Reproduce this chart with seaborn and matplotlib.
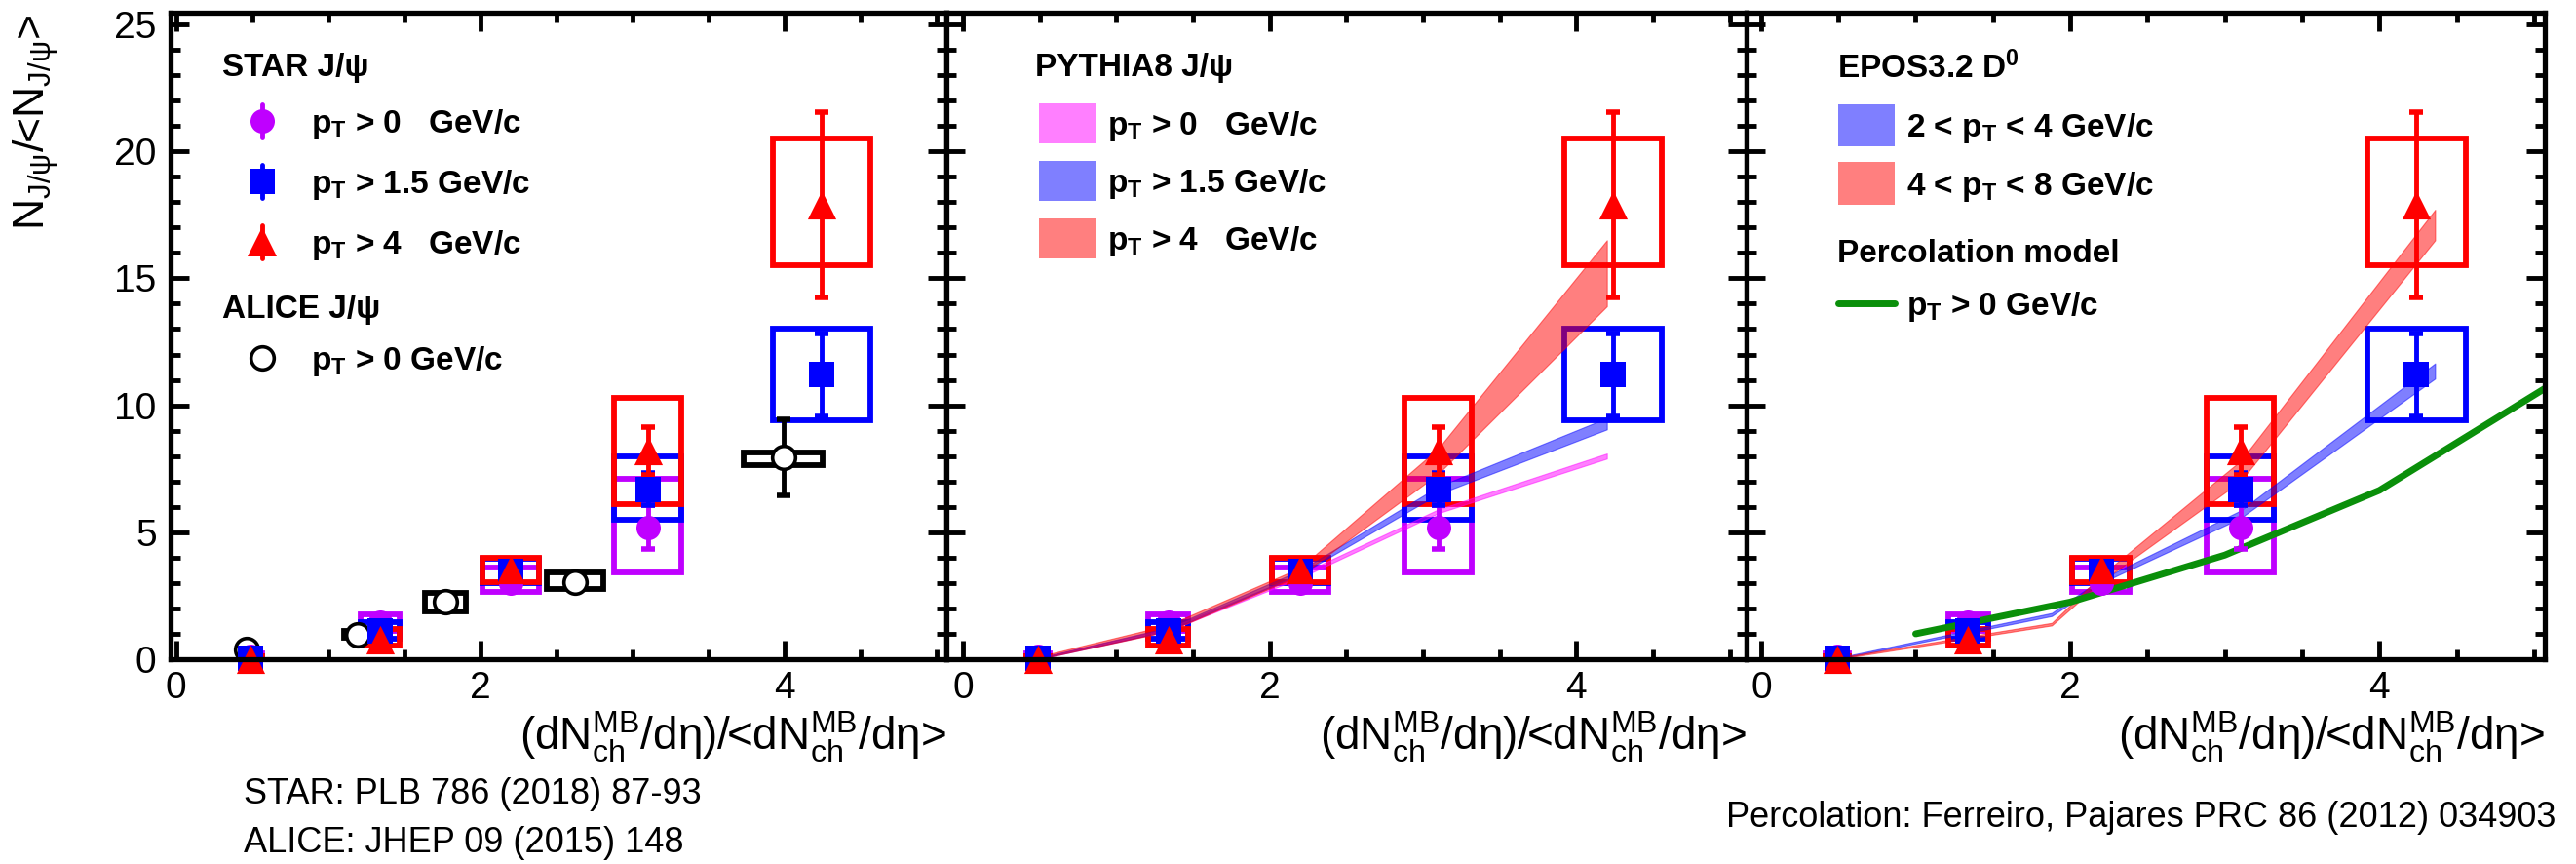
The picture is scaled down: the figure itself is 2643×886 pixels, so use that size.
import matplotlib
matplotlib.use("Agg")
import matplotlib.pyplot as plt
import seaborn as sns
import numpy as np
from matplotlib.ticker import MultipleLocator
from matplotlib.patches import Rectangle
from matplotlib.lines import Line2D

# ---------------- data ----------------
star_x = [0.49, 1.34, 2.2, 3.1, 4.24]
star_box_w = [0.15, 0.26, 0.37, 0.44, 0.64]

pt0_y = [0.12, 1.45, 3.0, 5.2]
pt0_stat = [0.05, 0.1, 0.15, 0.85]
pt0_sys_lo = [0.02, 1.1, 2.65, 3.4]
pt0_sys_hi = [0.22, 1.75, 3.6, 7.1]

pt15_y = [0.02, 1.1, 3.45, 6.7, 11.2]
pt15_stat = [0.05, 0.15, 0.2, 0.65, 1.63]
pt15_sys_lo = [-0.08, 0.8, 3.0, 5.5, 9.4]
pt15_sys_hi = [0.12, 1.45, 3.95, 8.0, 13.0]

pt4_y = [0.0, 0.75, 3.55, 8.2, 17.9]
pt4_stat = [0.05, 0.2, 0.3, 0.95, 3.65]
pt4_sys_lo = [-0.1, 0.55, 3.05, 6.1, 15.5]
pt4_sys_hi = [0.1, 1.2, 4.0, 10.3, 20.5]

alice_x = [0.46, 1.19, 1.77, 2.62, 3.99]
alice_y = [0.4, 0.95, 2.25, 3.05, 7.95]
alice_stat = [0.05, 0.1, 0.15, 0.2, 1.5]
alice_sys_lo = [0.35, 0.85, 1.9, 2.75, 7.65]
alice_sys_hi = [0.45, 1.1, 2.6, 3.4, 8.15]
alice_box_w = [0.1, 0.17, 0.27, 0.37, 0.52]

pythia_x = [0.49, 1.34, 2.2, 3.1, 4.2]
pythia_pt0_lo = [0.0, 1.12, 3.2, 5.75, 7.9]
pythia_pt0_hi = [0.05, 1.22, 3.35, 5.9, 8.1]
pythia_pt15_lo = [0.0, 1.12, 3.35, 6.5, 9.05]
pythia_pt15_hi = [0.05, 1.25, 3.5, 6.8, 9.5]
pythia_pt4_lo = [0.0, 1.1, 3.3, 7.3, 13.9]
pythia_pt4_hi = [0.1, 1.35, 3.6, 8.3, 16.5]

epos_x = [0.49, 1.88, 2.2, 3.1, 4.36]
epos_24_lo = [0.0, 1.7, 3.0, 5.55, 11.05]
epos_24_hi = [0.05, 1.82, 3.15, 5.85, 11.65]
epos_48_lo = [0.0, 1.33, 3.05, 7.0, 16.5]
epos_48_hi = [0.05, 1.43, 3.3, 7.8, 17.7]

perc_x = [1.0, 2.0, 3.0, 4.0, 5.2]
perc_y = [1.0, 2.25, 4.1, 6.65, 11.15]

xlims = [(-0.04, 5.06), (-0.11, 5.11), (-0.095, 5.07)]

# ---------------- style ----------------
sns.set_theme(style="ticks")
plt.rcParams.update({
    'font.family': ['Liberation Sans', 'DejaVu Sans'],
    'mathtext.fontset': 'custom',
    'mathtext.rm': 'Liberation Sans',
    'mathtext.it': 'Liberation Sans:italic',
    'mathtext.bf': 'Liberation Sans:bold',
    'axes.linewidth': 3.8,
    'axes.edgecolor': 'black',
    'xtick.color': 'black', 'ytick.color': 'black',
    'text.color': 'black', 'axes.labelcolor': 'black',
})

MAG = '#bf00ff'
BLU = '#0000ff'
RED = '#ff0000'
GRN = '#0a8f0a'

W, H = 2643, 886
fig = plt.figure(figsize=(W / 100, H / 100), dpi=100)
gs = fig.add_gridspec(1, 3, width_ratios=[796, 821, 819], wspace=0,
                      left=174.5 / W, right=2611 / W,
                      bottom=1 - 676 / H, top=1 - 12.5 / H)
axes = [fig.add_subplot(gs[0, i]) for i in range(3)]


def fx(px):
    return px / W


def fy(py):
    return 1 - py / H


def draw_series(ax, x, y, stat, lo, hi, bw, color, marker, size, open_marker=False):
    n = len(y)
    x = np.asarray(x[:n]); lo = np.asarray(lo); hi = np.asarray(hi)
    ax.bar(x, hi - lo, width=np.asarray(bw[:n]), bottom=lo, fill=False,
           edgecolor=color, linewidth=4.2, zorder=2)
    ax.errorbar(x, y, yerr=stat, fmt='none', ecolor=color, elinewidth=3.5,
                capsize=5, capthick=4, zorder=4)
    if open_marker:
        sns.scatterplot(x=x, y=y, ax=ax, marker=marker, s=size ** 2,
                        facecolor='white', edgecolor=color, linewidth=2.6,
                        zorder=5, clip_on=False, legend=False)
    else:
        sns.scatterplot(x=x, y=y, ax=ax, marker=marker, s=size ** 2,
                        color=color, edgecolor=color, linewidth=0,
                        zorder=5, clip_on=False, legend=False)


def draw_star(ax):
    draw_series(ax, star_x, pt0_y, pt0_stat, pt0_sys_lo, pt0_sys_hi, star_box_w, MAG, 'o', 18)
    draw_series(ax, star_x, pt15_y, pt15_stat, pt15_sys_lo, pt15_sys_hi, star_box_w, BLU, 's', 18.5)
    draw_series(ax, star_x, pt4_y, pt4_stat, pt4_sys_lo, pt4_sys_hi, star_box_w, RED, '^', 21)


# panel 1: data
ax = axes[0]
draw_series(ax, alice_x, alice_y, alice_stat, alice_sys_lo, alice_sys_hi, alice_box_w,
            'black', 'o', 17, open_marker=True)
draw_star(ax)

# panel 2: PYTHIA8
ax = axes[1]
draw_star(ax)
ax.fill_between(pythia_x, pythia_pt0_lo, pythia_pt0_hi, color='#ff00ff', alpha=0.5, linewidth=0.8, zorder=3)
ax.fill_between(pythia_x, pythia_pt15_lo, pythia_pt15_hi, color=BLU, alpha=0.5, linewidth=0.8, zorder=3)
ax.fill_between(pythia_x, pythia_pt4_lo, pythia_pt4_hi, color=RED, alpha=0.5, linewidth=0.8, zorder=3)

# panel 3: EPOS + percolation
ax = axes[2]
draw_star(ax)
ax.fill_between(epos_x, epos_24_lo, epos_24_hi, color=BLU, alpha=0.5, linewidth=0.8, zorder=3)
ax.fill_between(epos_x, epos_48_lo, epos_48_hi, color=RED, alpha=0.5, linewidth=0.8, zorder=3)
sns.lineplot(x=perc_x, y=perc_y, ax=ax, color=GRN, linewidth=5, sort=False,
             estimator=None, zorder=3.5, legend=False)

# axes formatting
xlabel = r'(dN$^{\mathrm{MB}}_{\mathrm{ch}}$/dη)/<dN$^{\mathrm{MB}}_{\mathrm{ch}}$/dη>'
for i, ax in enumerate(axes):
    ax.set_xlim(*xlims[i])
    ax.set_ylim(0, 25.48)
    ax.xaxis.set_major_locator(MultipleLocator(2))
    ax.xaxis.set_minor_locator(MultipleLocator(0.5))
    ax.yaxis.set_major_locator(MultipleLocator(5))
    ax.yaxis.set_minor_locator(MultipleLocator(1))
    ax.tick_params(which='both', direction='in', top=True, right=True,
                   width=3.5, labelsize=28)
    ax.tick_params(which='major', length=14)
    ax.tick_params(which='minor', length=7)
    ax.tick_params(axis='x', which='major', pad=9)
    ax.tick_params(axis='y', which='major', pad=10)
    if i > 0:
        ax.tick_params(labelleft=False)
    for s in ax.spines.values():
        s.set_linewidth(3.8)
        s.set_zorder(6)
    ax.set_xlabel(xlabel, fontsize=33, loc='right', labelpad=2)
    ax.set_ylabel('')

fig.text(fx(37), fy(15), r'N$_{\mathrm{J/\psi}}$/<N$_{\mathrm{J/\psi}}$>', rotation=90,
         fontsize=32, ha='center', va='top')

# ---------------- legends (figure pixel coordinates) ----------------
LFS = 24


def ltext(px, py, s, bold=True):
    fig.text(fx(px), fy(py + 12), s, fontsize=LFS, fontweight='bold' if bold else 'normal',
             ha='left', va='baseline')


def lmarker(px, py, color, marker, size, open_marker=False):
    fig.add_artist(Line2D([fx(px), fx(px)], [fy(py - 17), fy(py + 17)],
                          color=color, linewidth=3.5, transform=fig.transFigure))
    if open_marker:
        fig.add_artist(Line2D([fx(px)], [fy(py)], marker=marker, markersize=size,
                              markerfacecolor='white', markeredgecolor=color,
                              markeredgewidth=2.6, transform=fig.transFigure))
    else:
        fig.add_artist(Line2D([fx(px)], [fy(py)], marker=marker, markersize=size,
                              color=color, markeredgewidth=0, transform=fig.transFigure))


def lbox(px0, px1, py, h, color):
    fig.add_artist(Rectangle((fx(px0), fy(py + h / 2)), fx(px1) - fx(px0), h / H,
                             facecolor=color, alpha=0.5, edgecolor='none',
                             transform=fig.transFigure))


# panel 1
ltext(228, 66, r'STAR J/ψ')
lmarker(269, 124, MAG, 'o', 18)
ltext(319, 124, r'p$_{\mathbf{T}}$ > 0   GeV/c')
lmarker(269, 186, BLU, 's', 18.5)
ltext(319, 186, r'p$_{\mathbf{T}}$ > 1.5 GeV/c')
lmarker(269, 248, RED, '^', 21)
ltext(319, 248, r'p$_{\mathbf{T}}$ > 4   GeV/c')
ltext(228, 314, r'ALICE J/ψ')
fig.add_artist(Line2D([fx(269)], [fy(367)], marker='o', markersize=17,
                      markerfacecolor='white', markeredgecolor='black',
                      markeredgewidth=2.6, transform=fig.transFigure))
ltext(319, 367, r'p$_{\mathbf{T}}$ > 0 GeV/c')

# panel 2
ltext(1062, 66, r'PYTHIA8 J/ψ')
lbox(1066, 1124, 126, 41, '#ff00ff')
ltext(1136, 126, r'p$_{\mathbf{T}}$ > 0   GeV/c')
lbox(1066, 1124, 185, 41, BLU)
ltext(1136, 185, r'p$_{\mathbf{T}}$ > 1.5 GeV/c')
lbox(1066, 1124, 244, 41, RED)
ltext(1136, 244, r'p$_{\mathbf{T}}$ > 4   GeV/c')

# panel 3
ltext(1885, 68, r'EPOS3.2 D$^{\mathbf{0}}$')
lbox(1886, 1944, 128, 43, BLU)
ltext(1956, 128, r'2 < p$_{\mathbf{T}}$ < 4 GeV/c')
lbox(1886, 1944, 188, 43, RED)
ltext(1956, 188, r'4 < p$_{\mathbf{T}}$ < 8 GeV/c')
ltext(1885, 257, 'Percolation model')
fig.add_artist(Line2D([fx(1886), fx(1944)], [fy(311), fy(311)], color=GRN,
                      linewidth=5, transform=fig.transFigure))
ltext(1956, 311, r'p$_{\mathbf{T}}$ > 0 GeV/c')

# bottom references
fig.text(fx(250), fy(814), 'STAR: PLB 786 (2018) 87-93', fontsize=26, ha='left', va='center')
fig.text(fx(250), fy(865), 'ALICE: JHEP 09 (2015) 148', fontsize=26, ha='left', va='center')
fig.text(fx(2622), fy(838), 'Percolation: Ferreiro, Pajares PRC 86 (2012) 034903', fontsize=26,
         ha='right', va='center')

fig.savefig('out.png', dpi=100)
